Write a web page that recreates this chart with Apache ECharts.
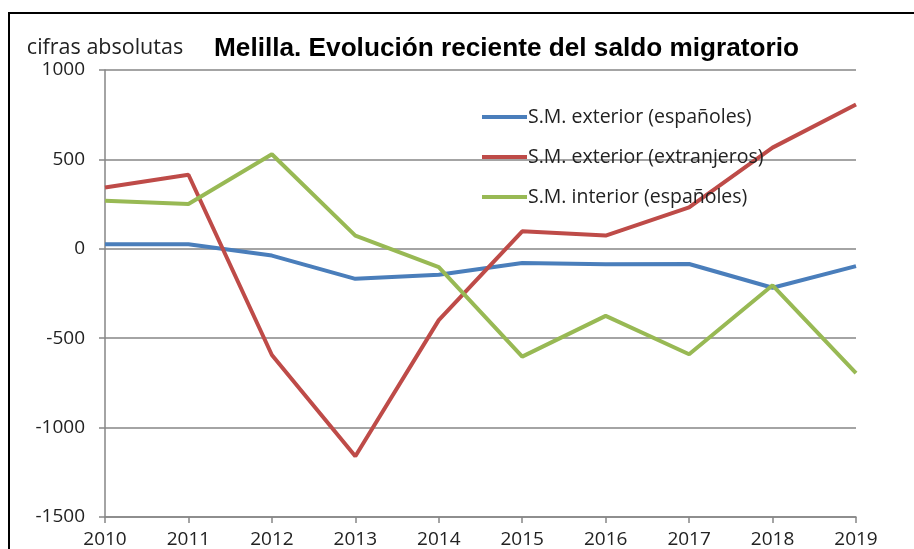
<!DOCTYPE html>
<html>
<head>
<meta charset="utf-8">
<script src="https://cdn.jsdelivr.net/npm/echarts@6/dist/echarts.min.js"></script>
<style>
  html, body { margin: 0; padding: 0; background: #fff; }
  #chart1 { width: 914px; height: 549px; }
</style>
</head>
<body>
<div id="chart1"></div>
<script>
    // datos
    var aYears = ['2010', '2011', '2012', '2013', '2014', '2015', '2016', '2017', '2018', '2019'];
    var aExtEsp = [25, 25, -38, -168, -145, -80, -86, -85, -218, -97];
    var aExtExtr = [343, 414, -594, -1160, -399, 98, 74, 232, 566, 807];
    var aIntEsp = [269, 251, 529, 74, -102, -603, -375, -590, -204, -696];
    var aYTicks = { min: -1500, max: 1000, step: 500 };

    var sFont = '"Open Sans", sans-serif';
    var sGrid = '#868686';

    var chartDom = document.getElementById('chart1');
    var myChart = echarts.init(chartDom);
    var option;
    option = {
        animation: false,
        title: {
            text: 'Melilla. Evolución reciente del saldo migratorio',
            left: 214,
            top: 36,
            padding: 0,
            textStyle: {
                fontFamily: '"Liberation Sans", Arial, sans-serif',
                fontWeight: 'bold',
                fontSize: 26.2,
                color: '#000'
            }
        },
        // marco negro del grafico
        graphic: [{
            type: 'rect',
            shape: { x: 9, y: 13, width: 1000, height: 1000 },
            style: { fill: 'none', stroke: '#000', lineWidth: 2 },
            silent: true
        }],
        legend: {
            orient: 'vertical',
            left: 482,
            top: 106,
            padding: 0,
            itemGap: 18,
            itemWidth: 45,
            itemHeight: 4,
            icon: 'rect',
            textStyle: {
                fontFamily: sFont,
                fontSize: 19.5,
                lineHeight: 22,
                color: '#222',
                padding: [0, 0, 0, -4]
            },
            data: ['S.M. exterior (españoles)', 'S.M. exterior (extranjeros)', 'S.M. interior (españoles)']
        },
        grid: {
            left: 105,
            right: 58,
            top: 70,
            bottom: 30,
            containLabel: false
        },
        xAxis: [{
            type: 'category',
            data: aYears,
            boundaryGap: false,
            position: 'bottom',
            axisLine: { show: false },
            axisTick: { show: false },
            axisLabel: {
                margin: 13,
                fontFamily: sFont,
                fontSize: 19,
                color: '#222'
            }
        }, {
            // linea del eje en el cero con sus marcas
            type: 'category',
            data: aYears,
            boundaryGap: false,
            position: 'bottom',
            axisLine: { show: true, onZero: true, lineStyle: { color: sGrid, width: 1.5 } },
            axisTick: { show: true, length: 6, lineStyle: { color: sGrid, width: 1.5 } },
            axisLabel: { show: false }
        }],
        yAxis: {
            type: 'value',
            min: aYTicks.min,
            max: aYTicks.max,
            interval: aYTicks.step,
            name: 'cifras absolutas',
            nameLocation: 'end',
            nameGap: 11,
            nameTextStyle: {
                fontFamily: sFont,
                fontSize: 21.5,
                color: '#222'
            },
            axisLine: { show: true, lineStyle: { color: sGrid, width: 1.5 } },
            axisTick: { show: true, length: 6, lineStyle: { color: sGrid, width: 1.5 } },
            axisLabel: {
                margin: 20,
                fontFamily: sFont,
                fontSize: 19,
                color: '#222',
                formatter: function(v) { return String(v); }
            },
            splitLine: { show: true, lineStyle: { color: sGrid, width: 1.5 } }
        },
        series: [{
            name: 'S.M. exterior (españoles)',
            type: 'line',
            data: aExtEsp,
            symbol: 'none',
            color: '#4A7EBB',
            lineStyle: { width: 4 }
        }, {
            name: 'S.M. exterior (extranjeros)',
            type: 'line',
            data: aExtExtr,
            symbol: 'none',
            color: '#BE4B48',
            lineStyle: { width: 4 }
        }, {
            name: 'S.M. interior (españoles)',
            type: 'line',
            data: aIntEsp,
            symbol: 'none',
            color: '#98B954',
            lineStyle: { width: 4 }
        }]
    };
    option && myChart.setOption(option);
</script>
</body>
</html>
